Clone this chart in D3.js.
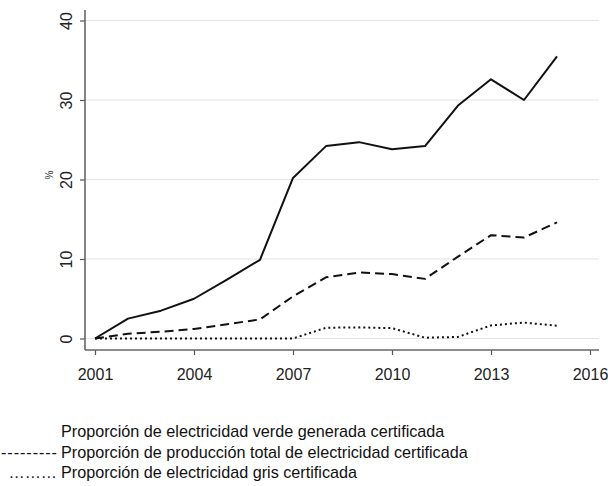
<!DOCTYPE html>
<html>
<head>
<meta charset="utf-8">
<script src="https://cdn.jsdelivr.net/npm/d3@7"></script>
<style>
  html, body { margin: 0; padding: 0; background: #fff; }
  svg { display: block; font-family: "Liberation Sans", Arial, sans-serif; }
</style>
</head>
<body>
<svg id="chart" width="608" height="486"></svg>
<script>
// Years of observation
const years = [2001, 2002, 2003, 2004, 2005, 2006, 2007, 2008, 2009, 2010, 2011, 2012, 2013, 2014, 2015];

// Share of certified green electricity generated (%)
const verde = [0, 2.5, 3.5, 5.0, 7.4, 9.9, 20.2, 24.2, 24.7, 23.8, 24.2, 29.3, 32.6, 30.0, 35.5];

// Share of total electricity production certified (%)
const total = [0, 0.6, 0.85, 1.2, 1.8, 2.4, 5.3, 7.7, 8.3, 8.1, 7.5, 10.3, 13.0, 12.7, 14.6];

// Share of certified grey electricity (%)
const gris = [0, 0, 0, 0, 0, 0, 0, 1.35, 1.4, 1.3, 0.1, 0.2, 1.65, 2.0, 1.6];

const xTicks = [2001, 2004, 2007, 2010, 2013, 2016];
const yTicks = [0, 10, 20, 30, 40];
const yLabel = "%";

const legendItems = [
  { prefix: "", text: "Proporción de electricidad verde generada certificada" },
  { prefix: "---------", text: "Proporción de producción total de electricidad certificada" },
  { prefix: "………", text: "Proporción de electricidad gris certificada" }
];

const svg = d3.select("#chart");

const plot = { left: 85, right: 599, top: 10, bottom: 350 };

const x = d3.scaleLinear().domain([2001, 2016]).range([95, 590]);
const y = d3.scaleLinear().domain([0, 40]).range([338.5, 20.5]);

// Horizontal gridlines
svg.append("g")
  .selectAll("line")
  .data(yTicks)
  .join("line")
  .attr("x1", plot.left)
  .attr("x2", plot.right)
  .attr("y1", d => y(d))
  .attr("y2", d => y(d))
  .attr("stroke", "#e4e4e4")
  .attr("stroke-width", 1.2);

// Y axis
const yAxis = svg.append("g")
  .attr("transform", `translate(${plot.left},0)`)
  .call(d3.axisLeft(y).tickValues(yTicks).tickSize(5).tickFormat(d3.format("d")));
yAxis.select(".domain").remove();
yAxis.selectAll(".tick line").attr("stroke", "#555").attr("stroke-width", 1.2);
yAxis.selectAll(".tick text")
  .attr("x", 0)
  .attr("dy", 0)
  .attr("transform", "translate(-13,0) rotate(-90)")
  .attr("text-anchor", "middle")
  .attr("fill", "#222")
  .style("font-size", "16px");

// X axis
const xAxis = svg.append("g")
  .attr("transform", `translate(0,${plot.bottom})`)
  .call(d3.axisBottom(x).tickValues(xTicks).tickSize(5).tickFormat(d3.format("d")));
xAxis.select(".domain").remove();
xAxis.selectAll(".tick line").attr("stroke", "#555").attr("stroke-width", 1.2);
xAxis.selectAll(".tick text")
  .attr("y", 30)
  .attr("dy", 0)
  .attr("fill", "#222")
  .style("font-size", "16px");

// Axis lines
svg.append("line")
  .attr("x1", plot.left).attr("x2", plot.left)
  .attr("y1", plot.top).attr("y2", plot.bottom)
  .attr("stroke", "#666").attr("stroke-width", 1.6);
svg.append("line")
  .attr("x1", plot.left).attr("x2", plot.right)
  .attr("y1", plot.bottom).attr("y2", plot.bottom)
  .attr("stroke", "#666").attr("stroke-width", 1.6);

// Y axis title
svg.append("text")
  .attr("transform", "translate(53,175) rotate(-90)")
  .attr("text-anchor", "middle")
  .attr("fill", "#333")
  .style("font-size", "10px")
  .text(yLabel);

// Series lines
const line = d3.line()
  .x((d, i) => x(years[i]))
  .y(d => y(d));

const series = [
  { values: verde, dash: null, width: 2 },
  { values: total, dash: "9,5", width: 2 },
  { values: gris, dash: "2,3", width: 2 }
];

svg.append("g")
  .selectAll("path")
  .data(series)
  .join("path")
  .attr("d", d => line(d.values))
  .attr("fill", "none")
  .attr("stroke", "#111")
  .attr("stroke-width", d => d.width)
  .attr("stroke-dasharray", d => d.dash)
  .attr("stroke-linejoin", "round");

// Legend: text prefixes stand in for the line styles
const legend = svg.append("g").style("font-size", "16.2px").attr("fill", "#111");
legendItems.forEach((item, i) => {
  const by = 437 + i * 20.7;
  if (item.prefix) {
    const t = legend.append("text")
      .attr("x", 57)
      .attr("y", by)
      .attr("text-anchor", "end")
      .text(item.prefix);
    if (item.prefix.startsWith("-")) {
      t.attr("x", 1)
        .attr("text-anchor", "start")
        .attr("textLength", 56)
        .attr("lengthAdjust", "spacing");
    }
  }
  legend.append("text")
    .attr("x", 61)
    .attr("y", by)
    .text(item.text);
});
</script>
</body>
</html>
